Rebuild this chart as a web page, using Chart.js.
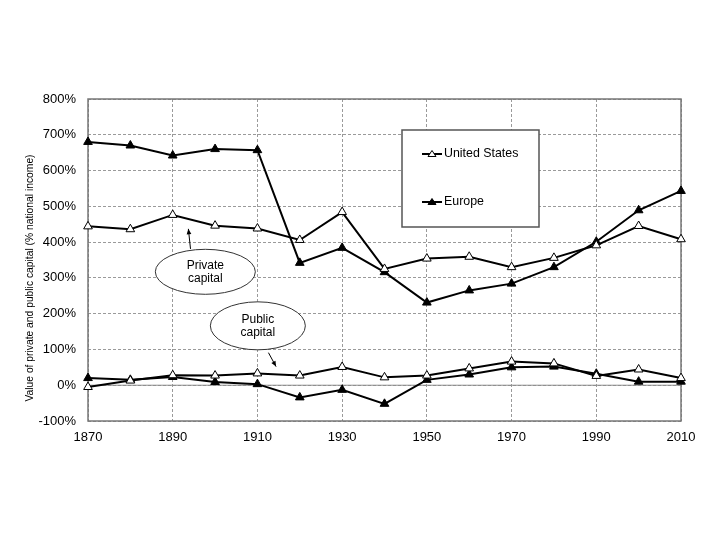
<!DOCTYPE html>
<html>
<head>
<meta charset="utf-8">
<script src="https://cdn.jsdelivr.net/npm/chart.js@4.4.1/dist/chart.umd.min.js"></script>
<style>
  html, body { margin: 0; padding: 0; background: #fff; }
  #wrap { width: 711px; height: 533px; }
</style>
</head>
<body>
<div id="wrap"><canvas id="capitalChart" width="711" height="533"></canvas></div>
<script>
const years = [1870, 1880, 1890, 1900, 1910, 1920, 1930, 1940, 1950, 1960, 1970, 1980, 1990, 2000, 2010];

// private capital, % of national income
const usPrivate = [444, 436, 476, 446, 438, 406, 484, 325, 354, 359, 330, 356, 391, 445, 408];
const europePrivate = [680, 670, 642, 660, 657, 342, 384, 316, 231, 265, 284, 330, 401, 489, 543];

// public capital, % of national income
const usPublic = [-5, 13, 28, 27, 33, 27, 51, 22, 27, 47, 66, 61, 26, 44, 20];
const europePublic = [20, 15, 23, 9, 3, -34, -13, -52, 15, 30, 50, 52, 32, 10, 10];

const yTicks = [-100, 0, 100, 200, 300, 400, 500, 600, 700, 800];
const xTicks = [1870, 1890, 1910, 1930, 1950, 1970, 1990, 2010];

const FONT = '"Liberation Sans", Arial, sans-serif';

function toPoints(values) {
    return values.map((v, i) => ({ x: years[i], y: v }));
}

function series(label, values, filled) {
    return {
        label: label,
        data: toPoints(values),
        borderColor: '#000',
        borderWidth: 2,
        backgroundColor: filled ? '#000' : '#fff',
        pointBackgroundColor: filled ? '#000' : '#fff',
        pointBorderColor: '#000',
        pointBorderWidth: 1,
        pointStyle: 'triangle',
        pointRadius: 5,
        tension: 0,
        fill: false,
        clip: false,
    };
}

// frame, zero line, y title, legend box and the two callouts
const decorations = {
    id: 'decorations',
    beforeDatasetsDraw(chart) {
        const { ctx, chartArea, scales } = chart;
        const y0 = scales.y.getPixelForValue(0);
        ctx.save();
        ctx.strokeStyle = '#8c8c8c';
        ctx.lineWidth = 1;
        ctx.beginPath();
        ctx.moveTo(chartArea.left, y0);
        ctx.lineTo(chartArea.right, y0);
        ctx.stroke();

        // plot frame
        ctx.strokeStyle = '#777';
        ctx.lineWidth = 1.5;
        ctx.strokeRect(chartArea.left, chartArea.top, chartArea.right - chartArea.left, chartArea.bottom - chartArea.top);
        ctx.restore();
    },
    afterDatasetsDraw(chart) {
        const { ctx, chartArea, scales } = chart;
        const xs = scales.x, ys = scales.y;
        ctx.save();

        // y axis title
        ctx.save();
        ctx.translate(30, (chartArea.top + chartArea.bottom) / 2 + 18);
        ctx.rotate(-Math.PI / 2);
        ctx.fillStyle = '#000';
        ctx.font = '10.3px ' + FONT;
        ctx.textAlign = 'center';
        ctx.textBaseline = 'middle';
        ctx.fillText('Value of private and public capital (% national income)', 0, 0);
        ctx.restore();

        // legend box
        const bx = chartArea.left + 314, by = chartArea.top + 31;
        ctx.fillStyle = '#fff';
        ctx.fillRect(bx, by, 137, 97);
        ctx.strokeStyle = '#555';
        ctx.lineWidth = 1.5;
        ctx.strokeRect(bx, by, 137, 97);
        const entries = [
            { label: 'United States', filled: false, dy: 24 },
            { label: 'Europe', filled: true, dy: 72 },
        ];
        ctx.font = '12.4px ' + FONT;
        ctx.textBaseline = 'middle';
        entries.forEach(e => {
            const ly = by + e.dy;
            ctx.strokeStyle = '#000';
            ctx.lineWidth = 2;
            ctx.beginPath();
            ctx.moveTo(bx + 20, ly);
            ctx.lineTo(bx + 40, ly);
            ctx.stroke();
            ctx.beginPath();
            ctx.moveTo(bx + 30, ly - 3.5);
            ctx.lineTo(bx + 34, ly + 2.5);
            ctx.lineTo(bx + 26, ly + 2.5);
            ctx.closePath();
            ctx.fillStyle = e.filled ? '#000' : '#fff';
            ctx.fill();
            ctx.lineWidth = 1;
            ctx.stroke();
            ctx.fillStyle = '#000';
            ctx.textAlign = 'left';
            ctx.fillText(e.label, bx + 42, ly);
        });

        // callouts
        const notes = [
            { text: ['Private', 'capital'], cx: 1897.7, cy: 317, rx: 50, ry: 22.5,
              from: [1894.2, 381], to: [1893.7, 437] },
            { text: ['Public', 'capital'], cx: 1910.1, cy: 166, rx: 47.5, ry: 24,
              from: [1912.6, 91], to: [1914.4, 52] },
        ];
        notes.forEach(n => {
            const px = xs.getPixelForValue(n.cx), py = ys.getPixelForValue(n.cy);
            ctx.beginPath();
            ctx.ellipse(px, py, n.rx, n.ry, 0, 0, Math.PI * 2);
            ctx.fillStyle = '#fff';
            ctx.fill();
            ctx.strokeStyle = '#333';
            ctx.lineWidth = 1;
            ctx.stroke();
            ctx.fillStyle = '#000';
            ctx.font = '12px ' + FONT;
            ctx.textAlign = 'center';
            ctx.textBaseline = 'middle';
            ctx.fillText(n.text[0], px, py - 6.5);
            ctx.fillText(n.text[1], px, py + 6.5);

            const x1 = xs.getPixelForValue(n.from[0]), y1 = ys.getPixelForValue(n.from[1]);
            const x2 = xs.getPixelForValue(n.to[0]), y2 = ys.getPixelForValue(n.to[1]);
            ctx.strokeStyle = '#000';
            ctx.beginPath();
            ctx.moveTo(x1, y1);
            ctx.lineTo(x2, y2);
            ctx.stroke();
            const ang = Math.atan2(y2 - y1, x2 - x1);
            ctx.beginPath();
            ctx.moveTo(x2, y2);
            ctx.lineTo(x2 - 6 * Math.cos(ang - 0.4), y2 - 6 * Math.sin(ang - 0.4));
            ctx.lineTo(x2 - 6 * Math.cos(ang + 0.4), y2 - 6 * Math.sin(ang + 0.4));
            ctx.closePath();
            ctx.fillStyle = '#000';
            ctx.fill();
        });

        ctx.restore();
    }
};

const chart = new Chart(document.getElementById('capitalChart').getContext('2d'), {
    type: 'line',
    data: {
        datasets: [
            series('United States', usPrivate, false),
            series('United States (public)', usPublic, false),
            series('Europe', europePrivate, true),
            series('Europe (public)', europePublic, true),
        ],
    },
    options: {
        responsive: false,
        animation: false,
        devicePixelRatio: 1,
        layout: { padding: { left: 0, right: 30, top: 99, bottom: 82 } },
        plugins: {
            legend: { display: false },
            tooltip: { enabled: false },
        },
        scales: {
            x: {
                type: 'linear',
                min: 1870,
                max: 2010,
                afterBuildTicks: scale => { scale.ticks = xTicks.map(v => ({ value: v })); },
                afterFit: scale => { scale.height = 30; },
                ticks: {
                    color: '#000',
                    font: { family: FONT, size: 13 },
                    padding: 9,
                    maxRotation: 0,
                    callback: v => String(v),
                },
                grid: { color: '#9a9a9a', lineWidth: 1, drawTicks: false },
                border: { display: false, dash: [3, 2] },
            },
            y: {
                min: -100,
                max: 800,
                afterBuildTicks: scale => { scale.ticks = yTicks.map(v => ({ value: v })); },
                afterFit: scale => { scale.width = 88; },
                ticks: {
                    color: '#000',
                    font: { family: FONT, size: 13 },
                    padding: 12,
                    callback: v => v + '%',
                },
                grid: { color: '#9a9a9a', lineWidth: 1, drawTicks: false },
                border: { display: false, dash: [3, 2] },
            },
        },
    },
    plugins: [decorations],
});
</script>
</body>
</html>
